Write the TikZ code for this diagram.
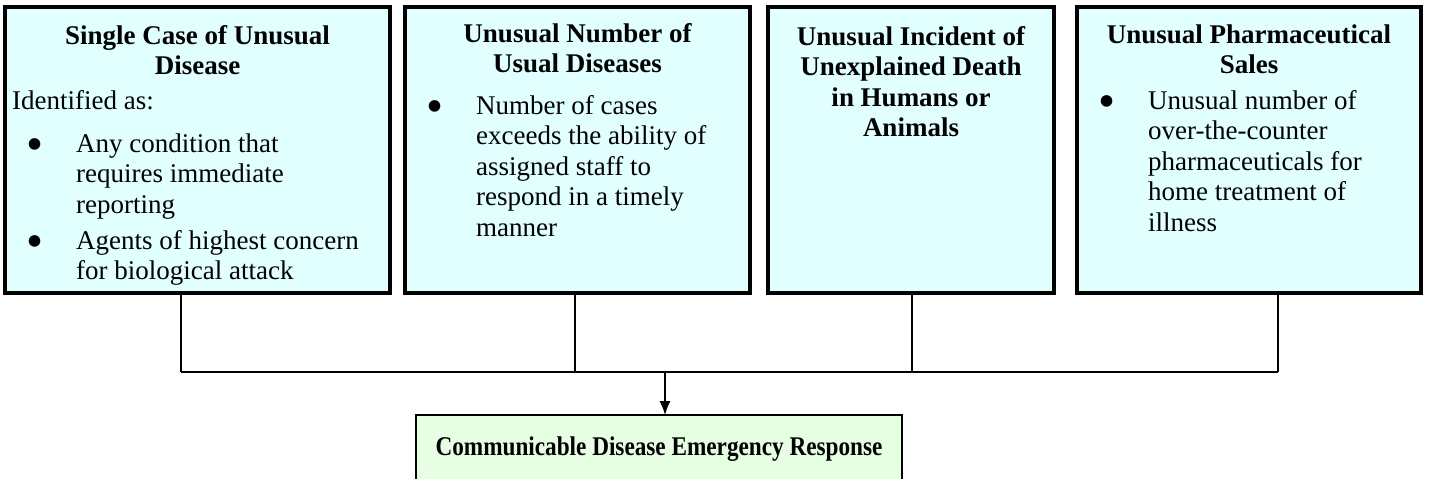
\documentclass[tikz,border=0pt]{standalone}
\usepackage{fontspec}
\setmainfont{Liberation Serif}
\usetikzlibrary{calc}
\usetikzlibrary{arrows.meta}

\definecolor{cardcyan}{HTML}{E1FFFF}
\definecolor{cardgreen}{HTML}{E6FFE3}

\tikzset{
  card/.style={draw, line width=4pt, fill=cardcyan, inner sep=0pt, outer sep=0pt, minimum height=286pt},
  cardtitle/.style={anchor=north, inner sep=0pt, font=\bfseries, align=center},
  cardbody/.style={anchor=north west, inner sep=0pt},
  respbox/.style={draw, line width=2pt, fill=cardgreen, inner sep=0pt, outer sep=0pt, minimum width=486pt, minimum height=68pt},
  link/.style={line width=1.3pt},
}
\newcommand{\bul}{\makebox[64pt][l]{\hspace{14pt}\raisebox{-8pt}{\scalebox{1.8}{\textbullet}}}}

\begin{document}
\fontsize{27}{30.5}\selectfont
\begin{tikzpicture}[x=1pt, y=-1pt, line join=miter, >={Latex[length=14pt, width=11pt]}]
  \useasboundingbox (0, 0) rectangle (1429, 479);
  \clip (0, 0) rectangle (1429, 479);
  %--- Single case
    \node[card, minimum width=385pt] (b1) at (197.5, 150) {};
    \node[cardtitle] (h1) at ($(b1.north)+(0, 15.65)$) {\strut Single Case of Unusual\\ Disease};
    \node[cardbody] (t1) at ($(b1.north west)+(7, 80.65)$) {\begin{tabular}{@{}l@{}l@{}}
      \multicolumn{2}{@{}l@{}}{Identified as:}\\[12.5pt]
      \bul & Any condition that\\
           & requires immediate\\
           & reporting\\[5.5pt]
      \bul & Agents of highest concern\\
           & for biological attack
    \end{tabular}};
  %--- Usual diseases
    \node[card, minimum width=345pt] (b2) at (577.5, 150) {};
    \node[cardtitle] (h2) at ($(b2.north)+(0, 13.65)$) {\strut Unusual Number of\\ Usual Diseases};
    \node[cardbody] (t2) at ($(b2.north west)+(7, 85.65)$) {\begin{tabular}{@{}l@{}l@{}}
      \bul & Number of cases\\
           & exceeds the ability of\\
           & assigned staff to\\
           & respond in a timely\\
           & manner
    \end{tabular}};
  %--- Unexplained death
    \node[card, minimum width=286pt] (b3) at (911, 150) {};
    \node[cardtitle] (h3) at ($(b3.north)+(0, 16.65)$) {\strut Unusual Incident of\\ Unexplained Death\\ in Humans or\\ Animals};
  %--- Pharmaceutical sales
    \node[card, minimum width=344pt] (b4) at (1249, 150) {};
    \node[cardtitle] (h4) at ($(b4.north)+(0, 14.65)$) {\strut Unusual Pharmaceutical\\ Sales};
    \node[cardbody] (t4) at ($(b4.north west)+(7, 80.65)$) {\begin{tabular}{@{}l@{}l@{}}
      \bul & Unusual number of\\
           & over-the-counter\\
           & pharmaceuticals for\\
           & home treatment of\\
           & illness
    \end{tabular}};
  %--- Response
    \node[respbox] (resp) at (659, 449) {\scalebox{0.86}[1]{\fontsize{27}{30}\selectfont\bfseries Communicable Disease Emergency Response}};
  % Links
    \coordinate (j1) at (181, 372);
    \coordinate (j2) at (575, 372);
    \coordinate (j3) at (912, 372);
    \coordinate (j4) at (1278, 372);
    \coordinate (jm) at (665, 372);
    \draw[link] (b1.south -| j1) -- (j1);
    \draw[link] (b2.south -| j2) -- (j2);
    \draw[link] (b3.south -| j3) -- (j3);
    \draw[link] (b4.south -| j4) -- (j4);
    \draw[link] (j1) -- (j4);
    \draw[link, ->] (jm) -- (resp.north -| jm);
\end{tikzpicture}
\end{document}
